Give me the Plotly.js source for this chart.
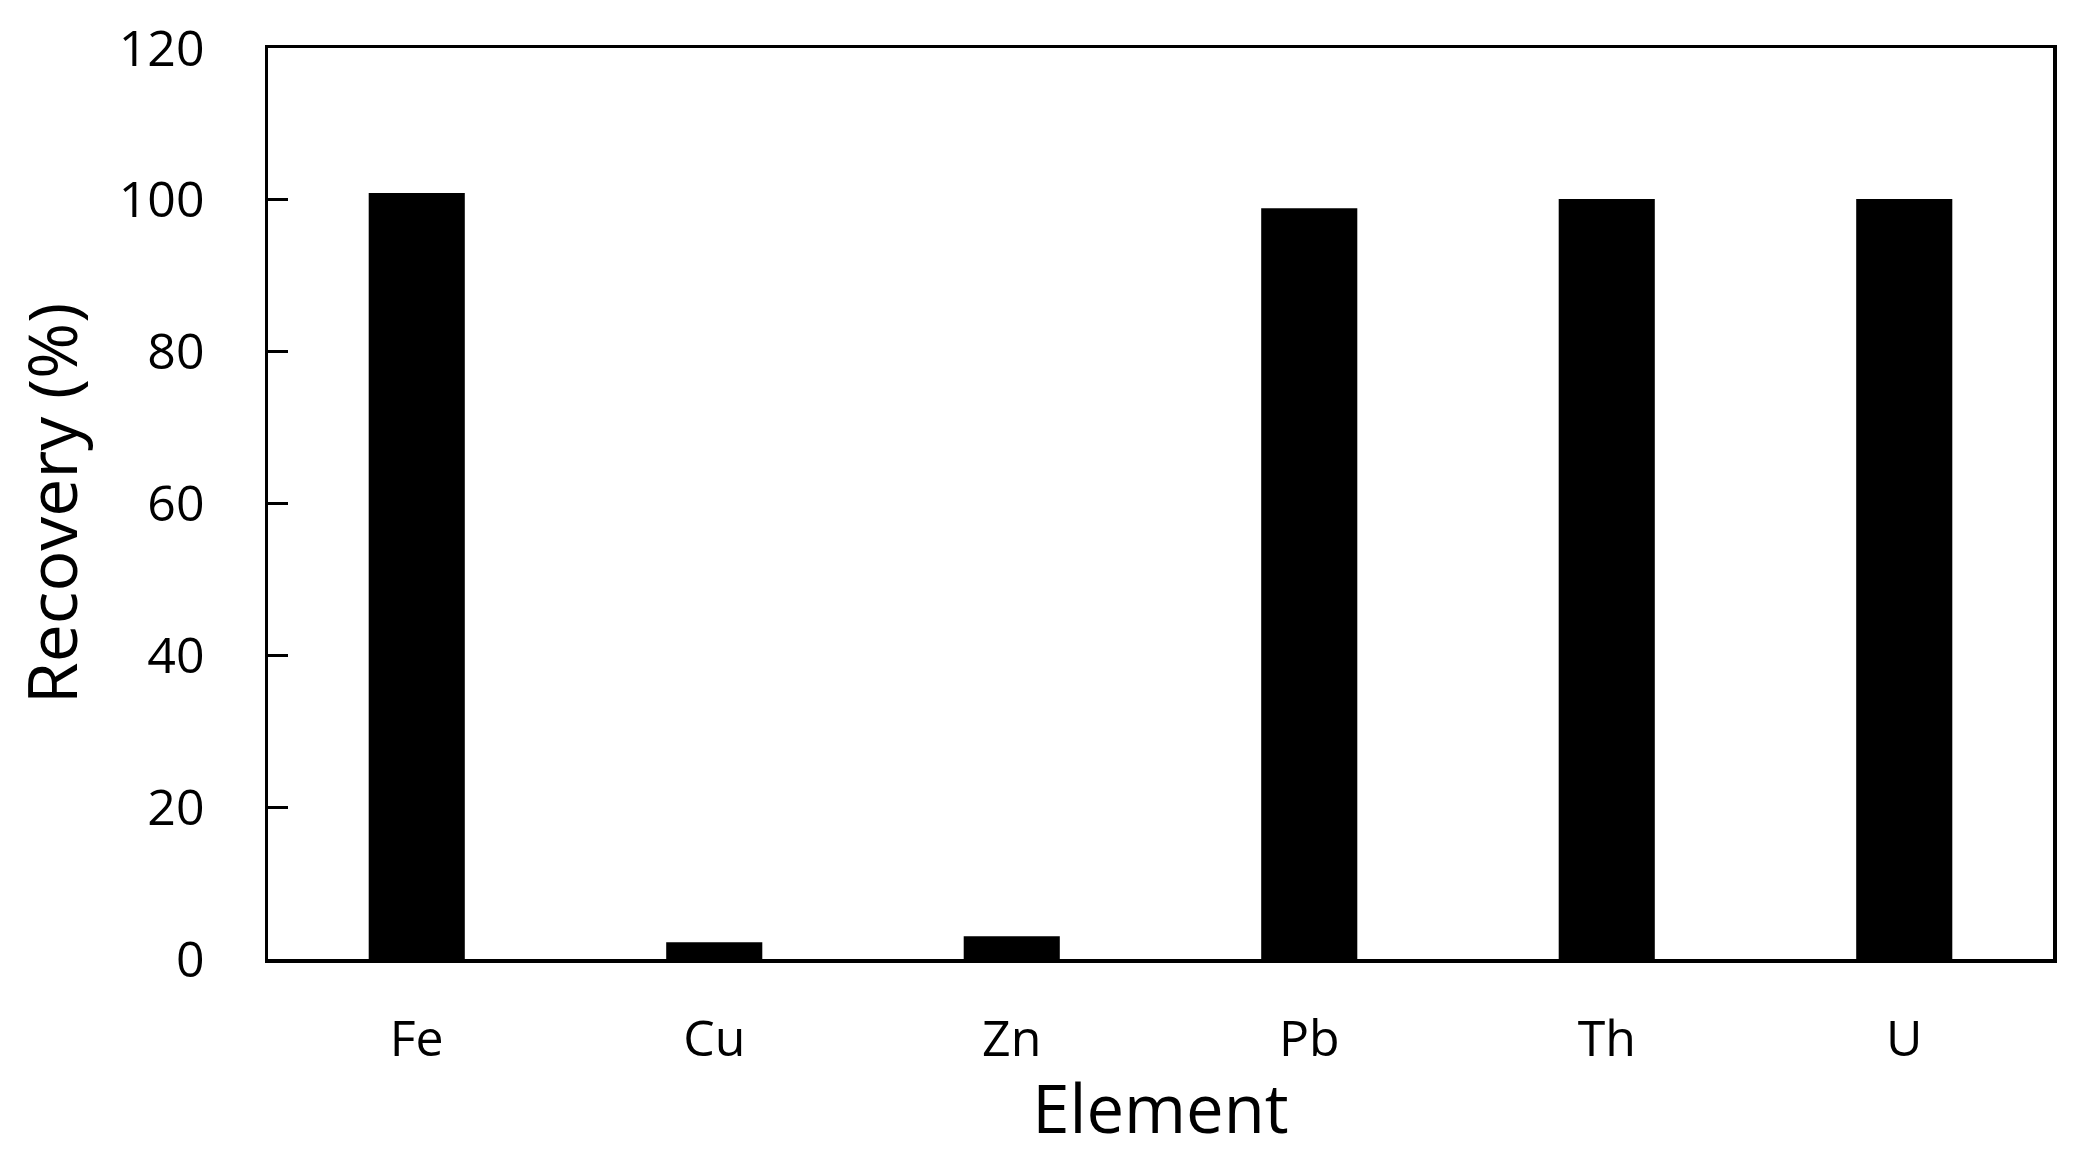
<!DOCTYPE html>
<html>
<head>
<meta charset="utf-8">
<script src="https://cdn.plot.ly/plotly-3.0.1.min.js"></script>
<style>html,body{margin:0;padding:0;background:#fff;}#chart{width:2084px;height:1153px;}</style>
</head>
<body>
<div id="chart"></div>
<script>
const elements = ["Fe", "Cu", "Zn", "Pb", "Th", "U"];
const recovery = [100.9, 2.2, 3.0, 98.9, 100.1, 100.1];
const yTickValues = [0, 20, 40, 60, 80, 100, 120];
const xTitle = "Element";
const yTitle = "Recovery (%)";

const FONT = "'Open Sans', 'Noto Sans', sans-serif";

const trace = {
  type: "bar",
  x: elements,
  y: recovery,
  marker: {color: "#000000", line: {width: 0}},
  hoverinfo: "x+y"
};

const layout = {
  width: 2084,
  height: 1153,
  margin: {l: 268, r: 31, t: 48, b: 194, pad: 0},
  paper_bgcolor: "#ffffff",
  plot_bgcolor: "#ffffff",
  showlegend: false,
  bargap: 0.677,
  font: {family: FONT, color: "#000000", size: 50},
  xaxis: {
    type: "category",
    showline: true,
    linecolor: "#000000",
    linewidth: 3.5,
    mirror: true,
    ticks: "",
    showgrid: false,
    zeroline: false,
    tickfont: {family: FONT, size: 50, color: "#000000"},
    ticklabelstandoff: 33,
    title: {text: xTitle, font: {family: FONT, size: 67, color: "#000000"}, standoff: 22},
    automargin: false
  },
  yaxis: {
    range: [0, 120],
    tickvals: yTickValues,
    ticktext: yTickValues.map(String),
    showline: true,
    linecolor: "#000000",
    linewidth: 3.5,
    mirror: true,
    ticks: "inside",
    ticklen: 20,
    tickwidth: 3,
    tickcolor: "#000000",
    showgrid: false,
    zeroline: false,
    tickfont: {family: FONT, size: 50, color: "#000000"},
    ticklabelstandoff: 50,
    title: {text: yTitle, font: {family: FONT, size: 68, color: "#000000"}, standoff: 20},
    automargin: false
  }
};

Plotly.newPlot("chart", [trace], layout, {displayModeBar: false, staticPlot: true});
</script>
</body>
</html>
